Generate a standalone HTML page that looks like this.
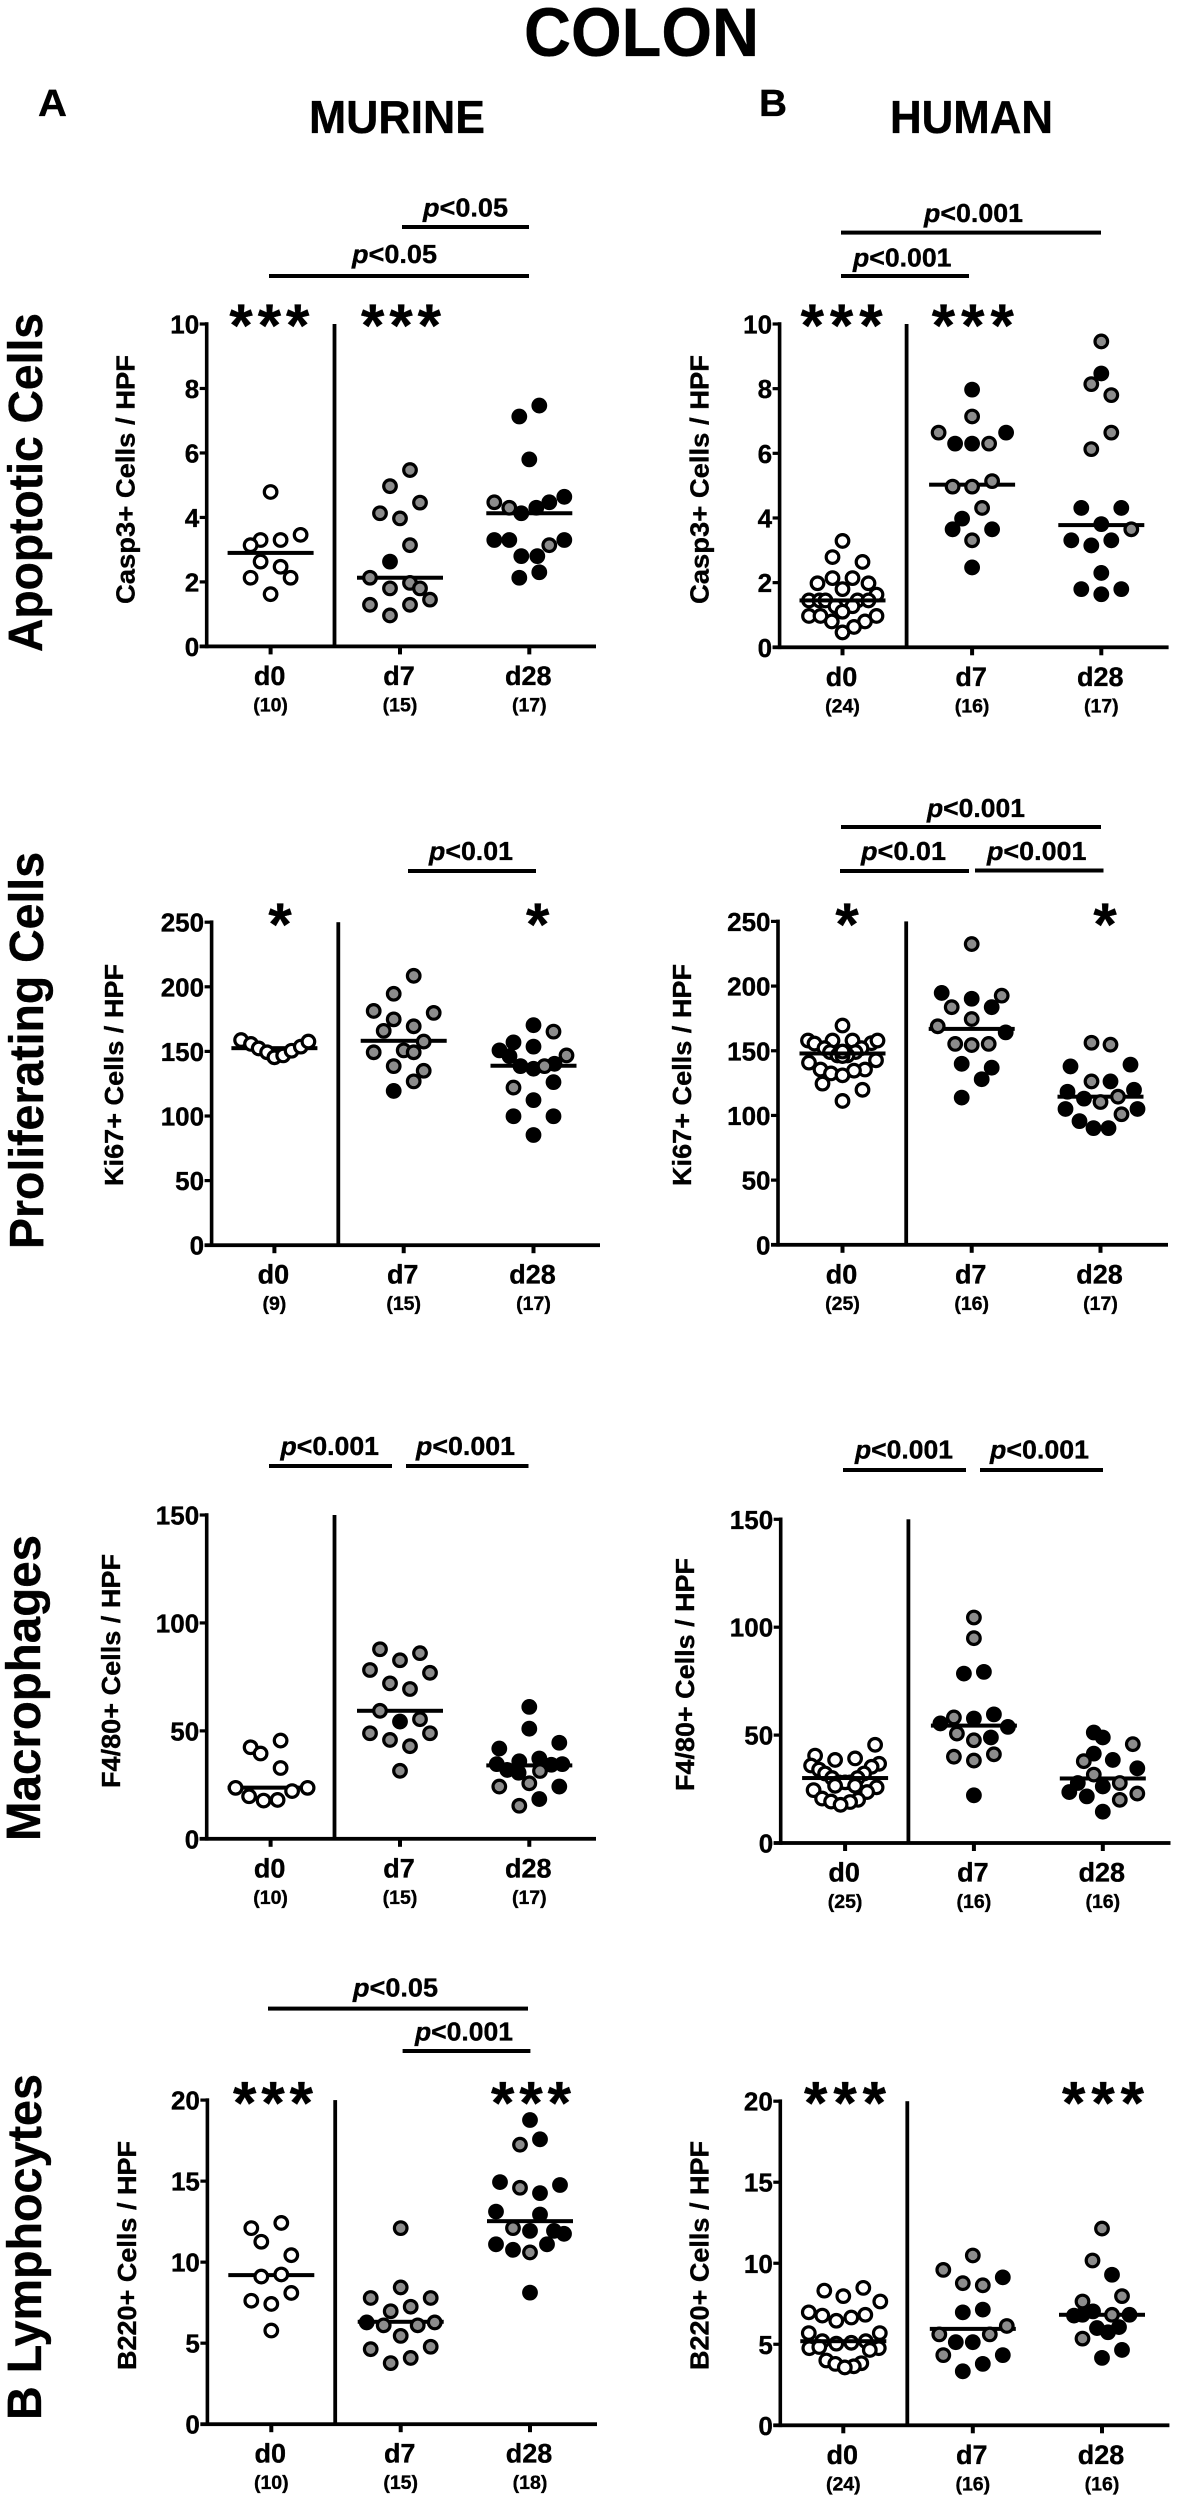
<!DOCTYPE html>
<html lang="en">
<head>
<meta charset="utf-8">
<title>Colon - Murine and Human cell counts</title>
<style>
html,body{margin:0;padding:0;background:#fff;}
svg{display:block;}
text{font-family:"Liberation Sans",Arial,sans-serif;font-weight:bold;fill:#000;stroke:#000;stroke-width:.35px;}
</style>
</head>
<body>
<svg id="figure" xmlns="http://www.w3.org/2000/svg" width="1177" height="2500" viewBox="0 0 1177 2500">
<rect x="0" y="0" width="1177" height="2500" fill="#fff"/>
<text x="524" y="56" font-size="69" textLength="235" lengthAdjust="spacingAndGlyphs">COLON</text>
<text x="38" y="116" font-size="38" textLength="29" lengthAdjust="spacingAndGlyphs">A</text>
<text x="759" y="116" font-size="38" textLength="28" lengthAdjust="spacingAndGlyphs">B</text>
<text x="309" y="133" font-size="46" textLength="176" lengthAdjust="spacingAndGlyphs">MURINE</text>
<text x="890" y="133" font-size="46" textLength="163" lengthAdjust="spacingAndGlyphs">HUMAN</text>

<text transform="translate(42,652) rotate(-90)" font-size="48" textLength="339" lengthAdjust="spacingAndGlyphs">Apoptotic Cells</text>
<text transform="translate(43,1249) rotate(-90)" font-size="48" textLength="397" lengthAdjust="spacingAndGlyphs">Proliferating Cells</text>
<text transform="translate(40,1841) rotate(-90)" font-size="48" textLength="306" lengthAdjust="spacingAndGlyphs">Macrophages</text>
<text transform="translate(41,2420) rotate(-90)" font-size="48" textLength="346" lengthAdjust="spacingAndGlyphs">B Lymphocytes</text>

<text transform="translate(134.7,604) rotate(-90)" font-size="26" textLength="249" lengthAdjust="spacingAndGlyphs">Casp3+ Cells / HPF</text>
<text transform="translate(708.6,604) rotate(-90)" font-size="26" textLength="249" lengthAdjust="spacingAndGlyphs">Casp3+ Cells / HPF</text>
<text transform="translate(123,1186) rotate(-90)" font-size="26" textLength="222" lengthAdjust="spacingAndGlyphs">Ki67+ Cells / HPF</text>
<text transform="translate(691,1186) rotate(-90)" font-size="26" textLength="222" lengthAdjust="spacingAndGlyphs">Ki67+ Cells / HPF</text>
<text transform="translate(120,1788) rotate(-90)" font-size="26" textLength="234" lengthAdjust="spacingAndGlyphs">F4/80+ Cells / HPF</text>
<text transform="translate(694,1791) rotate(-90)" font-size="26" textLength="233" lengthAdjust="spacingAndGlyphs">F4/80+ Cells / HPF</text>
<text transform="translate(136,2370) rotate(-90)" font-size="26" textLength="229" lengthAdjust="spacingAndGlyphs">B220+ Cells / HPF</text>
<text transform="translate(708.6,2370) rotate(-90)" font-size="26" textLength="229" lengthAdjust="spacingAndGlyphs">B220+ Cells / HPF</text>

<g font-size="26">
<text x="423" y="216.5" font-size="26" textLength="85" lengthAdjust="spacingAndGlyphs"><tspan font-style="italic">p</tspan>&lt;0.05</text>
<rect x="402" y="225" width="127" height="4"/>
<text x="352" y="263" font-size="26" textLength="85" lengthAdjust="spacingAndGlyphs"><tspan font-style="italic">p</tspan>&lt;0.05</text>
<rect x="269" y="274" width="260" height="4"/>
<text x="924" y="222" font-size="26" textLength="99" lengthAdjust="spacingAndGlyphs"><tspan font-style="italic">p</tspan>&lt;0.001</text>
<rect x="841" y="230.6" width="260" height="4"/>
<text x="853" y="266.5" font-size="26" textLength="98.5" lengthAdjust="spacingAndGlyphs"><tspan font-style="italic">p</tspan>&lt;0.001</text>
<rect x="841" y="274" width="128" height="4"/>

<text x="429" y="860" font-size="26" textLength="84" lengthAdjust="spacingAndGlyphs"><tspan font-style="italic">p</tspan>&lt;0.01</text>
<rect x="408" y="869" width="128" height="4"/>
<text x="927" y="817" font-size="26" textLength="98" lengthAdjust="spacingAndGlyphs"><tspan font-style="italic">p</tspan>&lt;0.001</text>
<rect x="841" y="825" width="260" height="4"/>
<text x="861" y="860" font-size="26" textLength="85" lengthAdjust="spacingAndGlyphs"><tspan font-style="italic">p</tspan>&lt;0.01</text>
<rect x="840" y="869" width="129" height="4"/>
<text x="987" y="860" font-size="26" textLength="99.5" lengthAdjust="spacingAndGlyphs"><tspan font-style="italic">p</tspan>&lt;0.001</text>
<rect x="975" y="868.5" width="128.5" height="4"/>

<text x="280.5" y="1455" font-size="26" textLength="98.5" lengthAdjust="spacingAndGlyphs"><tspan font-style="italic">p</tspan>&lt;0.001</text>
<rect x="269" y="1464" width="123" height="4"/>
<text x="416" y="1455" font-size="26" textLength="99" lengthAdjust="spacingAndGlyphs"><tspan font-style="italic">p</tspan>&lt;0.001</text>
<rect x="406" y="1464" width="122.5" height="4"/>
<text x="855" y="1458.6" font-size="26" textLength="98" lengthAdjust="spacingAndGlyphs"><tspan font-style="italic">p</tspan>&lt;0.001</text>
<rect x="843" y="1468" width="123" height="4"/>
<text x="990" y="1458.6" font-size="26" textLength="99" lengthAdjust="spacingAndGlyphs"><tspan font-style="italic">p</tspan>&lt;0.001</text>
<rect x="980" y="1468" width="123" height="4"/>

<text x="353" y="1996.6" font-size="26" textLength="85" lengthAdjust="spacingAndGlyphs"><tspan font-style="italic">p</tspan>&lt;0.05</text>
<rect x="268" y="2006.6" width="260" height="4"/>
<text x="415" y="2040.5" font-size="26" textLength="98" lengthAdjust="spacingAndGlyphs"><tspan font-style="italic">p</tspan>&lt;0.001</text>
<rect x="402.6" y="2049" width="127.8" height="4"/>
</g>

<g font-size="60" text-anchor="middle">
<text x="269.4" y="346" textLength="80" lengthAdjust="spacing">***</text>
<text x="401" y="346" textLength="80" lengthAdjust="spacing">***</text>
<text x="841.6" y="346" textLength="82" lengthAdjust="spacing">***</text>
<text x="972.8" y="346" textLength="82" lengthAdjust="spacing">***</text>
<text x="280" y="945">*</text>
<text x="537.7" y="945">*</text>
<text x="847" y="945">*</text>
<text x="1105" y="945">*</text>
<text x="273" y="2123.5" textLength="80" lengthAdjust="spacing">***</text>
<text x="531" y="2123.5" textLength="80" lengthAdjust="spacing">***</text>
<text x="845" y="2123.5" textLength="82" lengthAdjust="spacing">***</text>
<text x="1103" y="2123.5" textLength="82" lengthAdjust="spacing">***</text>
</g>
<g id="charts"></g>
</svg>

<script>
/* Shared categories and tick labels */
const categories = ['d0', 'd7', 'd28'];
const apoptoticTicks = [0, 2, 4, 6, 8, 10];
const proliferatingTicks = [0, 50, 100, 150, 200, 250];
const macrophageTicks = [0, 50, 100, 150];
const lymphocyteTicks = [0, 5, 10, 15, 20];

/* Swarm arrays: offset of each point from the group centre, in symbol-spacing steps.
   Fills: w = open, g = grey, k = black. */

/* Apoptotic, murine */
const apoMurineCounts = [10, 15, 17];
const apoMurineMedians = [2.9, 2.13, 4.13];
const apoMurineD0 = [4.79, 3.46, 3.3, 3.3, 3.14, 2.63, 2.47, 2.13, 2.13, 1.62];
const apoMurineD0Swarm = [0, 3, 1, -1, -2, -1, 1, -2, 2, 0];
const apoMurineD0Fill = 'wwwwwwwwww';
const apoMurineD7 = [5.47, 4.97, 4.46, 4.13, 3.97, 3.14, 2.63, 2.13, 1.97, 1.8, 1.8, 1.45, 1.29, 1.29, 0.96];
const apoMurineD7Swarm = [1, -1, 2, -2, 0, 1, -1, -3, 1, -1, 2, 3, -3, 1, -1];
const apoMurineD7Fill = 'ggggggkgggggggg';
const apoMurineD28 = [7.47, 7.13, 5.8, 4.64, 4.47, 4.47, 4.3, 4.3, 4.13, 3.3, 3.3, 3.3, 3.14, 2.8, 2.8, 2.3, 2.13];
const apoMurineD28Swarm = [1, -1, 0, 3.5, -3.5, 2, -2, 0.7, -0.8, -3.5, -2, 3.5, 2, -0.8, 0.8, 1, -1];
const apoMurineD28Fill = 'kkkkgkgkkkkkgkkkk';

/* Apoptotic, human */
const apoHumanCounts = [24, 16, 17];
const apoHumanMedians = [1.45, 5.03, 3.78];
const apoHumanD0 = [3.29, 2.79, 2.64, 2.14, 2.14, 1.98, 1.98, 1.8, 1.63, 1.45, 1.45, 1.45, 1.45, 1.45, 1.27, 1.27, 1.1, 0.97, 0.97, 0.97, 0.8, 0.8, 0.63, 0.46];
const apoHumanD0Swarm = [0, -1, 2, -1, 1, -2.5, 2.6, 0, 3.4, -3.35, -2.3, -1.7, 1.5, 2.6, -0.7, 1, 0, -3.35, -2.2, 3.4, -1.07, 2.25, 1.15, 0];
const apoHumanD0Fill = 'wwwwwwwwwwwwwwwwwwwwwwww';
const apoHumanD7 = [7.97, 7.14, 6.64, 6.64, 6.3, 6.3, 6.3, 5.14, 4.97, 4.97, 4.31, 3.98, 3.65, 3.65, 3.31, 2.47];
const apoHumanD7Swarm = [0, 0, -3.35, 3.4, -1.7, 0, 1.7, 2, -1.95, 0, 1, -1, -1.95, 2, 0, 0];
const apoHumanD7Fill = 'kggkkkgggggkkkgk';
const apoHumanD28 = [9.46, 8.47, 8.14, 7.8, 6.64, 6.13, 4.31, 4.31, 3.81, 3.65, 3.31, 3.31, 3.15, 2.3, 1.8, 1.8, 1.64];
const apoHumanD28Swarm = [0, 0, -1, 1, 1, -1, -2, 2, 0, 3, -3, 1, -1, 0, -2, 2, 0];
const apoHumanD28Fill = 'gkggggkkkgkkkkkkk';

/* Proliferating, murine */
const proMurineCounts = [9, 15, 17];
const proMurineMedians = [152.5, 158.2, 138.9];
const proMurineD0 = [158.8, 155.8, 152.3, 149.3, 145.4, 146.9, 150.5, 153.7, 157.6];
const proMurineD0Swarm = [-3.33, -2.34, -1.57, -0.73, 0, 0.88, 1.72, 2.64, 3.4];
const proMurineD0Fill = 'wwwwwwwww';
const proMurineD7 = [208.5, 194.6, 181.3, 179.8, 174.8, 169.4, 165.9, 157.6, 150.8, 149.3, 149.3, 138.6, 135, 126.8, 119.4];
const proMurineD7Swarm = [1, -1, -3, 3, -1, 1, -2, 2, 0, -3, 1, -1, 2, 1, -1];
const proMurineD7Fill = 'ggggggggggggggk';
const proMurineD28 = [170.3, 165.3, 157, 153.7, 150.8, 146.9, 146.3, 140.4, 138.6, 136.6, 138.6, 126.2, 122, 112.3, 99.8, 99.8, 85.3];
const proMurineD28Swarm = [0, 2, -2, 0, -3.4, 3.3, -2.4, 2.1, -1.3, 0, 1.1, 2, -2, 0, -2, 2, 0];
const proMurineD28Fill = 'kgkkkgkkkkgkgkkkk';

/* Proliferating, human */
const proHumanCounts = [25, 16, 17];
const proHumanMedians = [147.9, 166.9, 114.5];
const proHumanD0 = [169.5, 157.9, 157.9, 157.9, 155.9, 157.9, 155.6, 152, 152, 149, 149, 146.4, 146.4, 145.9, 149.4, 140.8, 142.6, 135.5, 135.5, 132.5, 134.6, 131, 124.6, 119.8, 111.2];
const proHumanD0Swarm = [0, -3.45, -1, 1, 2.9, 3.5, -2.8, -1.8, 1.9, -1.25, 1.3, -0.5, 0.5, 0, 0, -3.35, 3.35, -2.2, 2.25, -1.15, 1.15, 0, -2, 2, 0];
const proHumanD0Fill = 'wwwwwwwwwwwwwwwwwwwwwwwww';
const proHumanD7 = [232.5, 194.7, 192.6, 190.2, 183.7, 183.7, 174.5, 168.9, 164.2, 155.3, 154.4, 155.3, 139.9, 136.9, 128, 113.8];
const proHumanD7Swarm = [0, -3, 3, 0, 2, -2, 0, -3.4, 3.4, -1.65, 0, 1.7, -1, 2, 1, -1];
const proHumanD7Fill = 'gkgkkgggkgggkkkk';
const proHumanD28 = [156.2, 154.7, 137.9, 139.3, 126.3, 126.3, 118.3, 119.8, 113, 114.5, 110.4, 105, 105, 100.9, 95.6, 90.2, 90.2];
const proHumanD28Swarm = [-0.9, 1, -3, 3, -0.9, 1, -3.3, 3.35, -1.65, 1.75, 0, -3.5, 3.7, 2.1, -2.1, -0.7, 0.8];
const proHumanD28Fill = 'ggkkgkkkkggkkgkkk';

/* Macrophages, murine */
const macMurineCounts = [10, 15, 17];
const macMurineMedians = [23.7, 59.3, 34];
const macMurineD0 = [45.5, 42.4, 39.5, 32.8, 23.6, 23.6, 22.1, 19.7, 18, 17.7];
const macMurineD0Swarm = [1, -2, -1, 1, -3.5, 3.7, 2.15, -2.15, 0.7, -0.7];
const macMurineD0Fill = 'wwwwwwwwww';
const macMurineD7 = [87.8, 86, 82.7, 78.2, 76.9, 72, 69.4, 59.3, 55.4, 54.3, 48.9, 48.9, 45.8, 42.9, 31.5];
const macMurineD7Swarm = [-2, 2, 0, -3, 3, -1, 1, -2, 2, 0, -3, 3, -1, 1, 0];
const macMurineD7Fill = 'gggggggggkggggg';
const macMurineD28 = [61.1, 51, 44.5, 41.8, 35.9, 37.2, 34.6, 34.6, 31.9, 30.6, 31.4, 25.7, 24.2, 24.2, 18.4, 15.3, 34.3];
const macMurineD28Swarm = [0, 0, 3, -3, -1, 1, -3.25, 3.3, -2.2, -1.07, 1.07, 0, -3, 3, 1, -1, 2.2];
const macMurineD28Fill = 'kkkkkkkkkkgggkkgk';

/* Macrophages, human */
const macHumanCounts = [25, 16, 16];
const macHumanMedians = [30.1, 54.4, 29.9];
const macHumanD0 = [45.5, 40.5, 38.5, 39.2, 35.9, 36.7, 35.3, 34, 32.2, 32.2, 30.1, 30.1, 28.1, 28.1, 28.1, 26.5, 26.5, 25.8, 24.5, 23.6, 20.6, 20, 19.2, 19, 17.7];
const macHumanD0Swarm = [3, -3, -1, 1, -3.4, 3.4, 2.65, -2.6, -2, 1.9, -1.3, 1.25, -0.6, 0.5, 0, -1, 1, 3.15, -3.15, 2.2, -2.3, 1.3, -1.4, 0.5, -0.45];
const macHumanD0Fill = 'wwwwwwwwwwwwwwwwwwwwwwwww';
const macHumanD7 = [104.5, 94.9, 78.5, 79.3, 59.6, 58.2, 57.7, 55.4, 53.8, 50.7, 48.9, 47.6, 40, 41.1, 38.2, 22.1];
const macHumanD7Swarm = [0, 0, -1, 1, 2, -2, 0, -3.35, 3.4, -1.7, 1.7, 0, -2, 2, 0, 0];
const macHumanD7Fill = 'ggkkkgkkkgkggggk';
const macHumanD28 = [51.2, 48.9, 45.8, 41.4, 38.5, 37.9, 34.6, 31.7, 27.8, 27.8, 26.2, 23.6, 22.9, 21.6, 20, 14.5];
const macHumanD28Swarm = [-0.9, 0, 3, -0.9, 1, -1.9, 3.45, -0.9, -2.5, 1.7, 0, -3.35, 3.45, -1.6, 1.7, 0];
const macHumanD28Fill = 'kkgkkgkgkgkkgkgk';

/* B lymphocytes, murine */
const lymMurineCounts = [10, 15, 18];
const lymMurineMedians = [9.2, 6.32, 12.53];
const lymMurineD0 = [12.42, 12.1, 11.26, 10.43, 9.11, 9.24, 8.1, 7.62, 7.42, 5.78];
const lymMurineD0Swarm = [1, -2, -1, 2, -1, 1, 2, -2, 0, 0];
const lymMurineD0Fill = 'wwwwwwwwww';
const lymMurineD7 = [12.1, 8.44, 7.79, 7.79, 7.25, 6.97, 6.28, 6.1, 6.1, 6.28, 5.45, 4.63, 4.78, 4.09, 3.77];
const lymMurineD7Swarm = [0, 0, -3, 3, 1, -1, -3.4, -1.7, 1.7, 3.4, 0, -3, 3, 1, -1];
const lymMurineD7Fill = 'ggggggkgggggggg';
const lymMurineD28 = [18.77, 17.58, 17.25, 14.94, 14.76, 14.59, 14.26, 13.12, 12.94, 12.1, 11.93, 11.93, 11.75, 11.1, 11.1, 10.76, 10.6, 8.12];
const lymMurineD28Swarm = [0, 1, -1, -3, 3, -1, 1, -3.4, 1, -1.7, 0, 2.4, 3.4, -3.4, 1.7, -1.7, 0, 0];
const lymMurineD28Fill = 'kkgkkgkkkgkkkkkkgk';

/* B lymphocytes, human */
const lymHumanCounts = [24, 16, 16];
const lymHumanMedians = [5.19, 5.95, 6.82];
const lymHumanD0 = [8.48, 8.31, 7.97, 7.64, 6.97, 6.82, 6.77, 6.65, 6.45, 5.69, 5.69, 5.19, 5.19, 5.09, 5.04, 4.76, 4.76, 4.83, 4.65, 4, 3.83, 3.79, 3.64, 3.57];
const lymHumanD0Swarm = [2, -1.9, 0, 3.7, -3.45, 2.2, -2.1, 0.8, -0.7, -3.45, 3.65, -2.1, 2.25, 0.8, -0.7, -3.4, 3.55, -2.4, 2.65, -1.7, 1.8, -0.8, 1.05, 0.15];
const lymHumanD0Fill = 'wwwwwwwwwwwwwwwwwwwwwwww';
const lymHumanD7 = [10.48, 9.59, 9.13, 8.77, 8.64, 6.97, 7.14, 6.13, 5.61, 5.61, 5.13, 5.13, 4.33, 4.33, 3.79, 3.33];
const lymHumanD7Swarm = [0, -2.95, 3, -1, 1, -1, 1, 3.4, -3.35, 1.7, -1.7, 0, -2.95, 3, 1, -1];
const lymHumanD7Fill = 'ggkggkkgggkkgkkk';
const lymHumanD28 = [12.14, 10.17, 9.29, 7.97, 7.64, 7.03, 6.82, 6.77, 6.82, 6.82, 6, 6.06, 5.74, 5.35, 4.65, 4.16];
const lymHumanD28Swarm = [0, -0.95, 1, 2, -1.95, -0.9, -1.95, -2.8, 1, 2.75, -0.5, 1.7, 0.6, -1.95, 2, 0];
const lymHumanD28Fill = 'ggkggkkkgkkkkgkk';

/* Panels: frame geometry plus references to the data arrays above */
const panels = [
  {id:'apoptotic-murine', axisX:206.7, topY:324, zeroY:646.4, sepX:334.5, catX:[270.6,400,529.3], endX:596, ticks:apoptoticTicks, counts:apoMurineCounts, medians:apoMurineMedians, medianOnTop:false,
   values:[apoMurineD0,apoMurineD7,apoMurineD28], swarm:[apoMurineD0Swarm,apoMurineD7Swarm,apoMurineD28Swarm], fills:[apoMurineD0Fill,apoMurineD7Fill,apoMurineD28Fill]},
  {id:'apoptotic-human', axisX:779.6, topY:324, zeroY:647.3, sepX:906.6, catX:[842.5,972.1,1101.3], endX:1168.6, ticks:apoptoticTicks, counts:apoHumanCounts, medians:apoHumanMedians, medianOnTop:true,
   values:[apoHumanD0,apoHumanD7,apoHumanD28], swarm:[apoHumanD0Swarm,apoHumanD7Swarm,apoHumanD28Swarm], fills:[apoHumanD0Fill,apoHumanD7Fill,apoHumanD28Fill]},
  {id:'proliferating-murine', axisX:211.6, topY:922.2, zeroY:1245.2, sepX:338.3, catX:[274.4,403.7,533.5], endX:600, ticks:proliferatingTicks, counts:proMurineCounts, medians:proMurineMedians, medianOnTop:false,
   values:[proMurineD0,proMurineD7,proMurineD28], swarm:[proMurineD0Swarm,proMurineD7Swarm,proMurineD28Swarm], fills:[proMurineD0Fill,proMurineD7Fill,proMurineD28Fill]},
  {id:'proliferating-human', axisX:778, topY:921.4, zeroY:1244.8, sepX:906.2, catX:[842.5,971.7,1100.5], endX:1168, ticks:proliferatingTicks, counts:proHumanCounts, medians:proHumanMedians, medianOnTop:true,
   values:[proHumanD0,proHumanD7,proHumanD28], swarm:[proHumanD0Swarm,proHumanD7Swarm,proHumanD28Swarm], fills:[proHumanD0Fill,proHumanD7Fill,proHumanD28Fill]},
  {id:'macrophages-murine', axisX:206.7, topY:1515, zeroY:1838.8, sepX:334.5, catX:[270.6,400,529.3], endX:596, ticks:macrophageTicks, counts:macMurineCounts, medians:macMurineMedians, medianOnTop:false,
   values:[macMurineD0,macMurineD7,macMurineD28], swarm:[macMurineD0Swarm,macMurineD7Swarm,macMurineD28Swarm], fills:[macMurineD0Fill,macMurineD7Fill,macMurineD28Fill]},
  {id:'macrophages-human', axisX:780.7, topY:1519.3, zeroY:1843, sepX:908.4, catX:[845.1,973.9,1102.8], endX:1170.5, ticks:macrophageTicks, counts:macHumanCounts, medians:macHumanMedians, medianOnTop:true,
   values:[macHumanD0,macHumanD7,macHumanD28], swarm:[macHumanD0Swarm,macHumanD7Swarm,macHumanD28Swarm], fills:[macHumanD0Fill,macHumanD7Fill,macHumanD28Fill]},
  {id:'lymphocytes-murine', axisX:207.4, topY:2100.1, zeroY:2424.2, sepX:335.2, catX:[271.3,400.7,530], endX:597, ticks:lymphocyteTicks, counts:lymMurineCounts, medians:lymMurineMedians, medianOnTop:false,
   values:[lymMurineD0,lymMurineD7,lymMurineD28], swarm:[lymMurineD0Swarm,lymMurineD7Swarm,lymMurineD28Swarm], fills:[lymMurineD0Fill,lymMurineD7Fill,lymMurineD28Fill]},
  {id:'lymphocytes-human', axisX:780.3, topY:2101.2, zeroY:2425.3, sepX:907.3, catX:[843.3,972.8,1102], endX:1169.4, ticks:lymphocyteTicks, counts:lymHumanCounts, medians:lymHumanMedians, medianOnTop:true,
   values:[lymHumanD0,lymHumanD7,lymHumanD28], swarm:[lymHumanD0Swarm,lymHumanD7Swarm,lymHumanD28Swarm], fills:[lymHumanD0Fill,lymHumanD7Fill,lymHumanD28Fill]}
];

const SVG_NS = 'http://www.w3.org/2000/svg';
const SWARM_STEP = 10;
const FILL_COLORS = {w:'#ffffff', g:'#8c8c8c', k:'#000000'};

function make(tag, attrs, parent) {
  const el = document.createElementNS(SVG_NS, tag);
  for (const key in attrs) {
    el.setAttribute(key, attrs[key]);
  }
  parent.appendChild(el);
  return el;
}

function drawPanel(p) {
  const root = document.getElementById('charts');
  const yMax = p.ticks[p.ticks.length - 1];
  const yScale = v => p.zeroY - (v / yMax) * (p.zeroY - p.topY);
  const xScale = (g, s) => p.catX[g] + s * SWARM_STEP;

  const group = make('g', {}, root);
  
  

  const yAxis = make('rect', {x:p.axisX - 1.8, y:p.topY - 1.8, width:3.6, height:p.zeroY - p.topY + 3.6}, group);
  
  

  const xAxis = make('rect', {x:p.axisX - 7, y:p.zeroY - 1.9, width:p.endX - p.axisX + 7, height:3.8}, group);
  
  

  const sep = make('rect', {x:p.sepX - 1.9, y:p.topY, width:3.8, height:p.zeroY - p.topY}, group);
  
  

  p.ticks.forEach(t => {
    const y = yScale(t);
    const tick = make('rect', {x:p.axisX - 7, y:y - 1.6, width:6, height:3.2}, group);
    
    
    const label = make('text', {x:p.axisX - 7.5, y:y + 9.5, 'font-size':26, 'text-anchor':'end'}, group);
    label.textContent = String(t);
    
    
  });

  categories.forEach((cat, g) => {
    const cx = p.catX[g];
    const tick = make('rect', {x:cx - 2, y:p.zeroY, width:4, height:8}, group);
    
    
    const label = make('text', {x:cx - 1, y:p.zeroY + 38.5, 'font-size':27, 'text-anchor':'middle'}, group);
    label.textContent = cat;
    
    
    const count = make('text', {x:cx, y:p.zeroY + 65, 'font-size':19.5, 'text-anchor':'middle'}, group);
    count.textContent = '(' + p.counts[g] + ')';
    
    

    const drawMedian = () => {
      const m = make('rect', {x:cx - 43, y:yScale(p.medians[g]) - 2, width:86, height:4}, group);
      
      
    };
    const onTop = p.medianOnTop && g === 0;
    if (!onTop) drawMedian();

    p.values[g].forEach((v, i) => {
      const dot = make('circle', {
        cx: xScale(g, p.swarm[g][i]),
        cy: yScale(v),
        r: 6.3,
        fill: FILL_COLORS[p.fills[g][i]],
        stroke: '#000',
        'stroke-width': 3.2
      }, group);
      
      
    });

    if (onTop) drawMedian();
  });
}

panels.forEach(drawPanel);
</script>
</body>
</html>
